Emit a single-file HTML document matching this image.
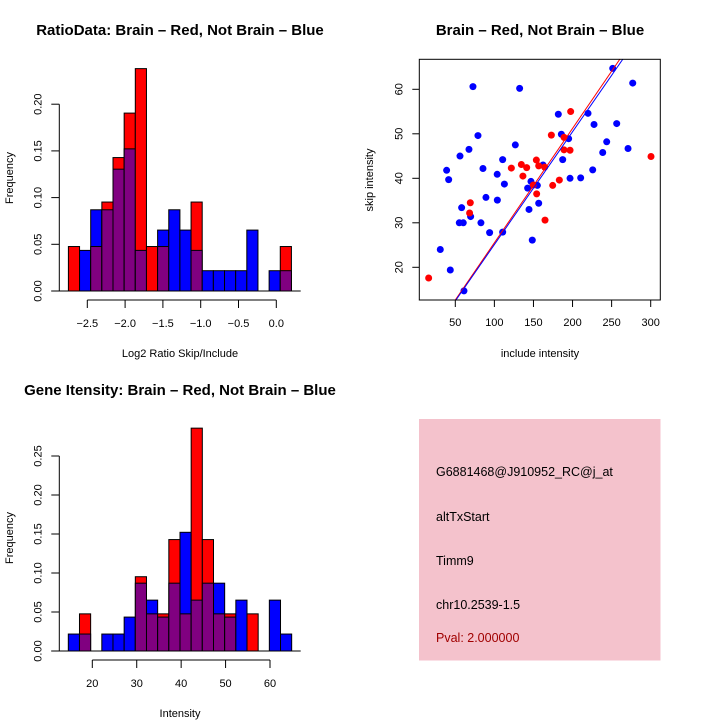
<!DOCTYPE html>
<html><head><meta charset="utf-8">
<style>
html,body{margin:0;padding:0;background:#fff;}
svg{display:block;font-family:"Liberation Sans",sans-serif;}
</style></head>
<body>
<svg id="chart" width="720" height="720" viewBox="0 0 720 720" xmlns="http://www.w3.org/2000/svg">
<rect width="720" height="720" fill="#fff"/>
<g id="p1"></g>
<g id="p2"></g>
<g id="p3"></g>
<g id="p4">
  <rect x="419" y="419" width="241.5" height="241.5" fill="#f4c2cc"/>
  <text x="436" y="476" font-size="12.5">G6881468@J910952_RC@j_at</text>
  <text x="436" y="521" font-size="12.5">altTxStart</text>
  <text x="436" y="565" font-size="12.5">Timm9</text>
  <text x="436" y="609" font-size="12.5">chr10.2539-1.5</text>
  <text x="436" y="642" font-size="12.5" fill="#a00000">Pval: 2.000000</text>
</g>
</svg>
<script>
// ---- Ratio histogram data ----
const ratioBreakStart = -2.75;
const ratioBinWidth = 0.1475;
const ratioRedCounts = [1,0,1,2,3,4,5,1,1,0,0,2,0,0,0,0,0,0,0,1];
const ratioBlueCounts = [0,2,4,4,6,7,2,0,3,4,3,2,1,1,1,1,3,0,1,1];
const ratioXTicks = [-2.5,-2.0,-1.5,-1.0,-0.5,0.0];
const ratioYTicks = [0,0.05,0.10,0.15,0.20];
// ---- Intensity histogram data ----
const intBreakStart = 14.6;
const intBinWidth = 2.514;
const intRedCounts = [0,1,0,0,0,0,2,1,1,3,1,6,3,1,1,0,1,0,0,0];
const intBlueCounts = [1,1,0,1,1,2,4,3,2,4,7,3,4,4,2,3,0,0,3,1];
const intXTicks = [20,30,40,50,60];
const intYTicks = [0,0.05,0.10,0.15,0.20,0.25];
// ---- Scatter data ----
const blueX = [72.6,132.3,251.4,277,181.8,219.8,227.5,256.5,79,185.7,195,243.7,126.8,67.5,271,238.6,56,110.6,187.4,162.2,38.9,85.4,225.8,103.6,41.5,196.8,210.4,112.8,146.8,142.6,155,89.2,103.8,58.1,156.7,144.3,69.6,55.1,60.2,82.8,93.9,110.6,148.5,30.8,43.6,61.1];
const blueY = [60.6,60.2,64.7,61.4,54.4,54.6,52.1,52.3,49.6,49.9,48.9,48.2,47.5,46.5,46.7,45.8,45.0,44.2,44.2,43.0,41.8,42.2,41.9,40.9,39.7,40.0,40.1,38.7,39.3,37.8,38.4,35.7,35.1,33.4,34.4,33.0,31.4,30.0,30.0,30.0,27.8,27.9,26.1,24.0,19.4,14.7];
const redX = [197.6,172.9,189.1,189.1,196.8,300.4,153.7,134.5,121.7,141.3,156.7,164.3,136.5,149.8,174.6,183.1,154.1,69.2,68.3,164.8,15.9];
const redY = [55.0,49.7,49.2,46.4,46.3,44.9,44.1,43.1,42.3,42.4,42.8,42.5,40.5,38.5,38.4,39.6,36.5,34.5,32.2,30.6,17.6];
const redFit = [-0.19, 0.257];
const blueFit = [-0.24, 0.2535];
const scatterXTicks = [50,100,150,200,250,300];
const scatterYTicks = [20,30,40,50,60];

const NS = "http://www.w3.org/2000/svg";
function mk(parent, tag, attrs){ const e=document.createElementNS(NS,tag); for(const k in attrs) e.setAttribute(k,attrs[k]); parent.appendChild(e); return e; }
function txt(parent, x, y, s, size, extra){ const t=mk(parent,'text',Object.assign({x:x,y:y,'font-size':size,'text-anchor':'middle'},extra||{})); t.textContent=s; return t; }
function fmt2(v){ return v.toFixed(2); }

function histPanel(g, o){
  const sx = v => o.x0 + (v - o.xv0) * o.xs;
  const sy = v => o.y0 - v * o.ys;
  const nR = o.red.reduce((a,b)=>a+b,0), nB = o.blue.reduce((a,b)=>a+b,0);
  for(let i=0;i<o.red.length;i++){
    const l = sx(o.bs + i*o.bw), r = sx(o.bs + (i+1)*o.bw);
    const fr = o.red[i]/nR, fb = o.blue[i]/nB;
    const hi = Math.max(fr,fb), lo = Math.min(fr,fb);
    if(hi>0){
      const b = mk(g,'rect',{x:l,y:sy(hi),width:r-l,height:sy(0)-sy(hi),fill:fr>=fb?'#ff0000':'#0000ff',stroke:'#000','stroke-width':1});
      
      
    }
    if(lo>0){
      const p = mk(g,'rect',{x:l,y:sy(lo),width:r-l,height:sy(0)-sy(lo),fill:'#800080',stroke:'#000','stroke-width':1});
      
      
    }
  }
  const bl = mk(g,'line',{x1:o.yax-8,x2:o.x1,y1:sy(0),y2:sy(0),stroke:'#000','stroke-width':1});
   
  const ya = mk(g,'g',{});  
  mk(ya,'line',{x1:o.yax,x2:o.yax,y1:sy(o.yt[0]),y2:sy(o.yt[o.yt.length-1]),stroke:'#000'});
  o.yt.forEach(v=>{ mk(ya,'line',{x1:o.yax,x2:o.yax-8,y1:sy(v),y2:sy(v),stroke:'#000'});
    txt(ya,o.yax-18,sy(v),fmt2(v),11,{transform:`rotate(-90 ${o.yax-18} ${sy(v)})`}); });
  const xa = mk(g,'g',{});  
  const xy = o.y0 + 9;
  mk(xa,'line',{x1:sx(o.xt[0]),x2:sx(o.xt[o.xt.length-1]),y1:xy,y2:xy,stroke:'#000'});
  o.xt.forEach(v=>{ mk(xa,'line',{x1:sx(v),x2:sx(v),y1:xy,y2:xy+8,stroke:'#000'});
    txt(xa,sx(v),xy+27,o.xfmt(v).replace('-','\u2212'),11); });
  const tt = txt(g,o.tx,o.ty,o.title,15,{'font-weight':'bold'});  
  const xl = txt(g,180,o.y0+66,o.xlab,11);  
  const yl = txt(g,13,o.ylc,'Frequency',11,{transform:`rotate(-90 13 ${o.ylc})`});  
}

histPanel(document.getElementById('p1'),{
  x0:87.3,xv0:-2.5,xs:75.6,y0:291,ys:46.7/0.05,bs:ratioBreakStart,bw:ratioBinWidth,
  red:ratioRedCounts,blue:ratioBlueCounts,xt:ratioXTicks,yt:ratioYTicks,yax:59.3,x1:300.7,
  xfmt:v=>v.toFixed(1),title:'RatioData: Brain \u2013 Red, Not Brain \u2013 Blue',tx:180,ty:35,
  xlab:'Log2 Ratio Skip/Include',ylc:178});
histPanel(document.getElementById('p3'),{
  x0:92.3,xv0:20,xs:4.4425,y0:651,ys:39/0.05,bs:intBreakStart,bw:intBinWidth,
  red:intRedCounts,blue:intBlueCounts,xt:intXTicks,yt:intYTicks,yax:59.3,x1:300.7,
  xfmt:v=>String(v),title:'Gene Itensity: Brain \u2013 Red, Not Brain \u2013 Blue',tx:180,ty:395,
  xlab:'Intensity',ylc:538});

(function(){
  const g = document.getElementById('p2');
  const L=419.3,R=660.3,T=59.3,B=300;
  const sx = v => 455.3 + (v-50)*0.7816;
  const sy = v => 89.3 - (v-60)*4.45;
  const defs = mk(g,'defs',{}); const cp = mk(defs,'clipPath',{id:'clipS'}); mk(cp,'rect',{x:L,y:T,width:R-L,height:B-T});
  const pts = mk(g,'g',{});  
  blueX.forEach((x,i)=>{ const c=mk(pts,'circle',{cx:sx(x),cy:sy(blueY[i]),r:3.5,fill:'#0000ff'});
      });
  redX.forEach((x,i)=>{ const c=mk(pts,'circle',{cx:sx(x),cy:sy(redY[i]),r:3.5,fill:'#ff0000'});
      });
  [[redFit,'#ff0000','fit-line-brain'],[blueFit,'#0000ff','fit-line-not-brain']].forEach(f=>{
    const a=f[0][0],b=f[0][1];
    const ln=mk(g,'line',{x1:sx(0),y1:sy(a),x2:sx(400),y2:sy(a+b*400),stroke:f[1],'stroke-width':1,'clip-path':'url(#clipS)'});
     
  });
  const box=mk(g,'rect',{x:L,y:T,width:R-L,height:B-T,fill:'none',stroke:'#000'});
   
  const xa=mk(g,'g',{});  
  scatterXTicks.forEach(v=>{ mk(xa,'line',{x1:sx(v),x2:sx(v),y1:B,y2:B+7,stroke:'#000'}); txt(xa,sx(v),B+26,String(v),11); });
  const ya=mk(g,'g',{});  
  scatterYTicks.forEach(v=>{ mk(ya,'line',{x1:L,x2:L-7,y1:sy(v),y2:sy(v),stroke:'#000'});
    txt(ya,L-17,sy(v),String(v),11,{transform:`rotate(-90 ${L-17} ${sy(v)})`}); });
  const tt=txt(g,540,35,'Brain \u2013 Red, Not Brain \u2013 Blue',15,{'font-weight':'bold'});  
  const xl=txt(g,540,357,'include intensity',11);  
  const yl=txt(g,373,180,'skip intensity',11,{transform:'rotate(-90 373 180)'});  
})();
</script>
</body></html>
